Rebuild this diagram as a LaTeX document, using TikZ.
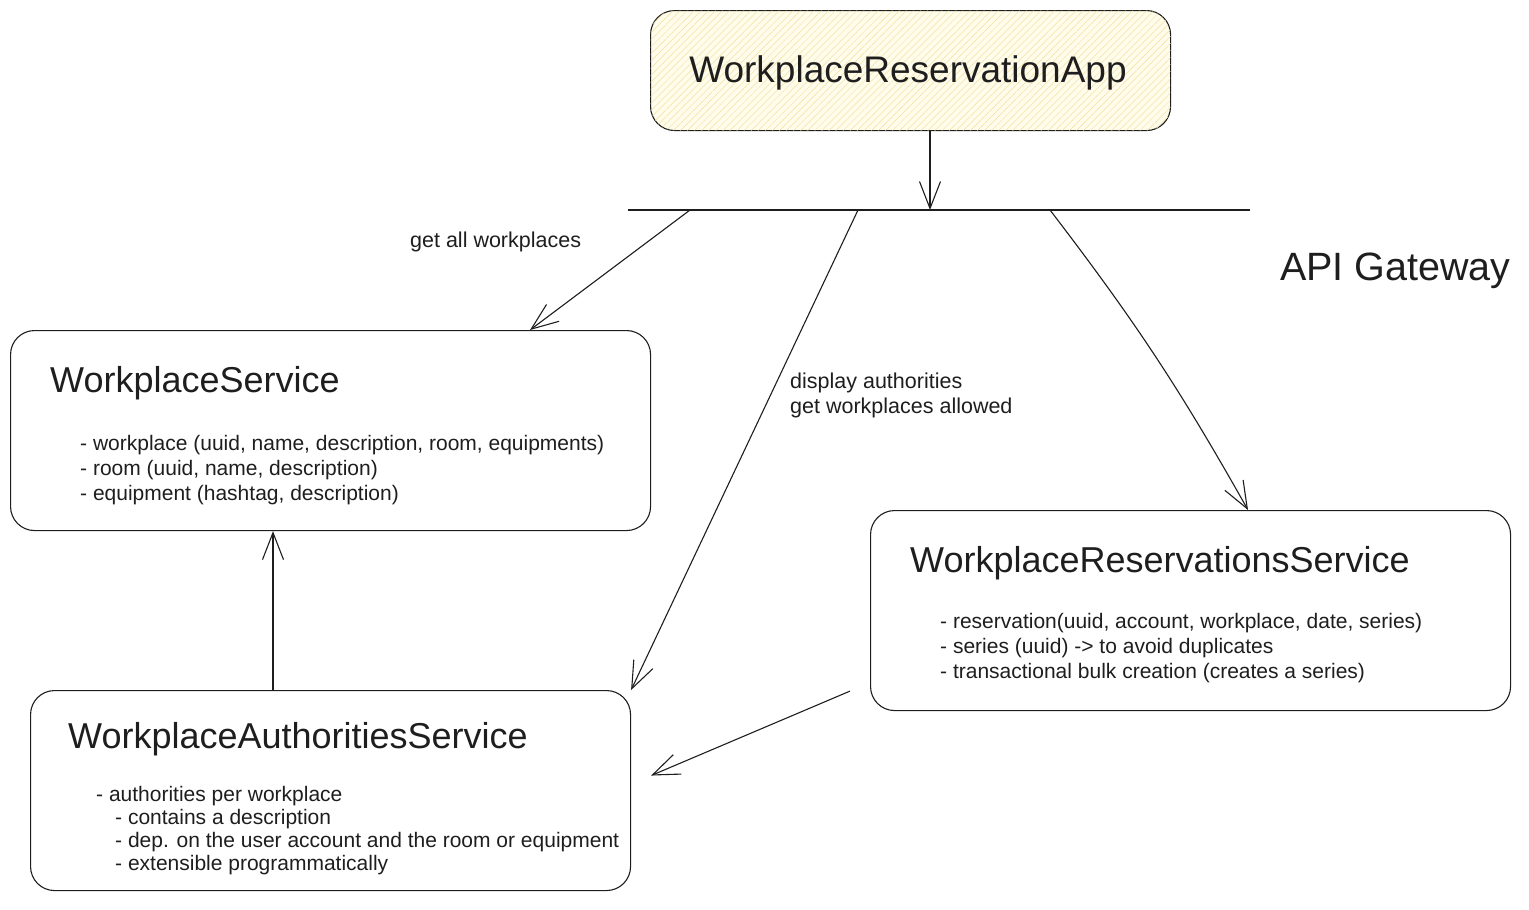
\documentclass[tikz,border=0pt]{standalone}
\usepackage{fontspec}
\setmainfont{Liberation Sans}
\usetikzlibrary{arrows.meta,patterns.meta,calc}
\definecolor{ink}{HTML}{1E1E1E}
\definecolor{hatchbg}{HTML}{FFFCEB}
\definecolor{hatchln}{HTML}{F0E2A0}
\begin{document}
\begin{tikzpicture}[x=1pt,y=-1pt,
  box/.style={draw=ink, line width=1.1pt, rounded corners=24pt, anchor=north west, inner sep=0pt, minimum width=640pt, minimum height=200pt},
  titletext/.style={anchor=base west, font=\fontsize{36}{40}\selectfont, text=ink, inner sep=0pt},
  itemtext/.style={anchor=base west, font=\fontsize{21}{25}\selectfont, text=ink, inner sep=0pt},
  lbltext/.style={anchor=base west, font=\fontsize{21.5}{25}\selectfont, text=ink, inner sep=0pt},
  conn/.style={draw=ink, line width=1.1pt, -{Straight Barb[length=27pt,width=21pt]}}
]
\useasboundingbox (0,0) rectangle (1529,910);

% top app box
\node[box, minimum width=520pt, minimum height=120pt, fill=hatchbg,
  postaction={pattern={Lines[angle=45,distance=5pt,line width=0.5pt]}, pattern color=hatchln}] (app) at (650,10) {};
\node[anchor=base, font=\fontsize{37}{40}\selectfont, text=ink, inner sep=0pt] (apptitle) at (908,82) {WorkplaceReservationApp};

% API gateway bar
\coordinate (gwL) at (628,210);
\coordinate (gwR) at (1250,210);
\draw[ink, line width=1.1pt] (gwL) -- (gwR);
\node[anchor=base west, font=\fontsize{39.5}{42}\selectfont, text=ink, inner sep=0pt] (gwlabel) at (1280,280) {API Gateway};

% service boxes
\node[box] (ws) at (10,330) {};
\node[box, minimum width=600pt] (auth) at (30,690) {};
\node[box] (res) at (870,510) {};

% titles
\node[titletext] (wstitle) at (50,392) {WorkplaceService};
\node[titletext] (authtitle) at (68,748) {WorkplaceAuthoritiesService};
\node[titletext] (restitle) at (910,572) {WorkplaceReservationsService};

% WorkplaceService items
\node[itemtext] (ws1) at (80,450) {- workplace (uuid, name, description, room, equipments)};
\node[itemtext] (ws2) at (80,475) {- room (uuid, name, description)};
\node[itemtext] (ws3) at (80,500) {- equipment (hashtag, description)};

% Authorities items
\node[itemtext] (au1) at (96,801) {- authorities per workplace};
\node[itemtext] (au2) at (115,824) {- contains a description};
\node[itemtext] (au3) at (115,847) {- dep. on the user account and the room or equipment};
\node[itemtext] (au4) at (115,870) {- extensible programmatically};

% Reservations items
\node[itemtext] (rs1) at (940,628) {- reservation(uuid, account, workplace, date, series)};
\node[itemtext] (rs2) at (940,653) {- series (uuid) -> to avoid duplicates};
\node[itemtext] (rs3) at (940,678) {- transactional bulk creation (creates a series)};

% labels
\node[lbltext] (lblall) at (410,247) {get all workplaces};
\node[lbltext] (lbldisp1) at (790,388) {display authorities};
\node[lbltext] (lbldisp2) at (790,413) {get workplaces allowed};

% connector anchor points
\coordinate (gwA) at (930,210);
\coordinate (gw1) at (690,210);
\coordinate (gw2) at (858,210);
\coordinate (gw3) at (1050,210);
\coordinate (wsIn) at ($(ws.north west)+(520,0)$);
\coordinate (resIn) at ($(res.north west)+(378,0)$);
\coordinate (authOut) at ($(auth.north west)+(243,0)$);
\coordinate (wsBot) at ($(ws.south west)+(263,0)$);
\coordinate (resOut) at ($(res.south west)+(-20,-20)$);
\coordinate (authIn) at ($(auth.east)+(20,-15)$);

% connectors
\draw[conn] (app.south -| gwA) -- (gwA);
\draw[conn] (gw1) -- (wsIn);
\draw[conn] (gw2) -- (auth.north east);
\draw[conn] (gw3) to[bend left=4] (resIn);
\draw[conn] (authOut) -- (wsBot);
\draw[conn] (resOut) -- (authIn);
\end{tikzpicture}
\end{document}
